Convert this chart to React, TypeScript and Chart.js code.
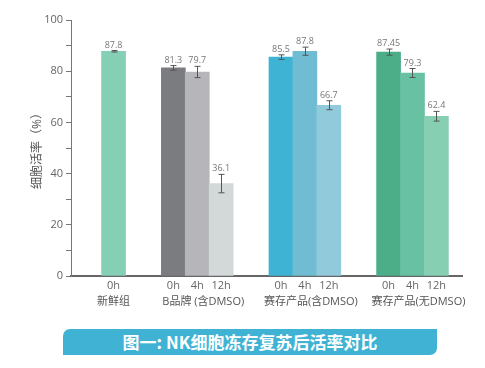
import React, { useEffect, useRef } from 'react';
import { Chart, registerables } from 'chart.js';

Chart.register(...registerables);

const groups = ['新鲜组', 'B品牌 (含DMSO)', '赛存产品(含DMSO)', '赛存产品(无DMSO)'];
const timepoints = [['0h'], ['0h', '4h', '12h'], ['0h', '4h', '12h'], ['0h', '4h', '12h']];
const viability = [[87.8], [81.3, 79.7, 36.1], [85.5, 87.8, 66.7], [87.45, 79.3, 62.4]];
const errors = [[0.3], [0.9, 2.2, 3.6], [0.9, 1.6, 1.75], [1.2, 1.75, 1.9]];
const colors = [
  ['#85CFB4'],
  ['#7B7C80', '#B6B5BA', '#D3D9D9'],
  ['#3EB3D3', '#70BDD3', '#91CADB'],
  ['#4BAE89', '#68C1A2', '#86CFB3'],
];
const yTickLabels = [0, 20, 40, 60, 80, 100];
const yTitle = '细胞活率（%）';
const bannerText = '图一: NK细胞冻存复苏后活率对比';

const GAP = 2.5;
type P = { x: number; y: number; err: number; color: string; label: string };
const points: P[] = [];
const groupTicks: { value: number; label: string }[] = [];
let cursor = 0;
groups.forEach((g, gi) => {
  const n = viability[gi].length;
  viability[gi].forEach((v, i) => {
    points.push({ x: cursor + i, y: v, err: errors[gi][i], color: colors[gi][i], label: timepoints[gi][i] });
  });
  const shift = g.endsWith(')') ? 0.25 : 0;
  groupTicks.push({ value: cursor + (n - 1) / 2 + shift, label: g });
  cursor += n - 1 + GAP;
});

const FONT = '"Open Sans", "Noto Sans CJK SC", sans-serif';
const XMIN = -1.78;
const XMAX = 14.57;

const errorPlugin = {
  id: 'errbars',
  afterDatasetsDraw(chart: any) {
    const ctx = chart.ctx;
    const meta = chart.getDatasetMeta(0);
    const ys = chart.scales.y;
    ctx.save();
    meta.data.forEach((bar: any, i: number) => {
      const p = points[i];
      const top = ys.getPixelForValue(p.y + p.err);
      const bot = ys.getPixelForValue(p.y - p.err);
      const x = Math.round(bar.x) + 0.5;
      ctx.strokeStyle = '#555';
      ctx.lineWidth = 1;
      ctx.beginPath();
      ctx.moveTo(x, top);
      ctx.lineTo(x, bot);
      ctx.moveTo(x - 3, top);
      ctx.lineTo(x + 3, top);
      ctx.moveTo(x - 3, bot);
      ctx.lineTo(x + 3, bot);
      ctx.stroke();
      ctx.fillStyle = '#777';
      ctx.font = `9px ${FONT}`;
      ctx.textAlign = 'center';
      ctx.textBaseline = 'bottom';
      ctx.fillText(String(p.y), bar.x, top - 1);
    });
    ctx.restore();
  },
};

export default function App() {
  const ref = useRef<HTMLCanvasElement>(null);
  useEffect(() => {
    const chart = new Chart(ref.current as HTMLCanvasElement, {
      type: 'bar',
      data: {
        datasets: [
          {
            data: points.map((p) => ({ x: p.x, y: p.y })),
            backgroundColor: points.map((p) => p.color),
            barThickness: 24,
            borderWidth: 0,
          },
        ],
      },
      options: {
        animation: false,
        responsive: false,
        maintainAspectRatio: false,
        layout: { padding: { top: 12, left: 0, right: 15, bottom: 4 } },
        plugins: { legend: { display: false }, tooltip: { enabled: false } },
        scales: {
          x: {
            type: 'linear',
            position: 'bottom',
            offset: false,
            min: XMIN,
            max: XMAX,
            grid: { display: false, drawTicks: false, offset: false },
            border: { display: true, color: '#666', width: 2 },
            afterBuildTicks: (s: any) => {
              s.ticks = points.map((p) => ({ value: p.x }));
            },
            afterFit: (s: any) => {
              s.height = 18;
              s.paddingLeft = 0;
              s.paddingRight = 0;
            },
            ticks: {
              autoSkip: false,
              maxRotation: 0,
              padding: 3,
              color: '#666',
              font: { family: FONT, size: 11 },
              callback: (_v: any, i: number) => points[i]?.label ?? '',
            },
          },
          x2: {
            type: 'linear',
            position: 'bottom',
            offset: false,
            min: XMIN,
            max: XMAX,
            grid: { display: false, drawTicks: false, offset: false },
            border: { display: false },
            afterBuildTicks: (s: any) => {
              s.ticks = groupTicks.map((t) => ({ value: t.value }));
            },
            afterFit: (s: any) => {
              s.height = 20;
              s.paddingLeft = 0;
              s.paddingRight = 0;
            },
            ticks: {
              autoSkip: false,
              maxRotation: 0,
              padding: 1,
              color: '#555',
              font: { family: FONT, size: 11 },
              callback: (_v: any, i: number) => groupTicks[i]?.label ?? '',
            },
          },
          y: {
            min: 0,
            max: 100,
            afterFit: (s: any) => {
              s.width = 63;
            },
            grid: { drawOnChartArea: false, drawTicks: true, tickLength: 5, color: '#777' },
            border: { display: true, color: '#777', width: 1 },
            title: {
              display: true,
              text: yTitle,
              color: '#555',
              font: { family: FONT, size: 12 },
              padding: { top: 22, bottom: 0 },
            },
            ticks: {
              stepSize: 10,
              autoSkip: false,
              padding: 3,
              color: '#666',
              font: { family: FONT, size: 11 },
              callback: (v: any) => (yTickLabels.includes(Number(v)) ? String(v) : ''),
            },
          },
        },
      } as any,
      plugins: [errorPlugin],
    });
    return () => chart.destroy();
  }, []);

  return (
    <div style={{ position: 'relative', width: 469, height: 352 }}>
      <canvas ref={ref} width={469} height={310} style={{ position: 'absolute', left: 0, top: 0, width: 469, height: 310 }} />
      <div
        style={{
          position: 'absolute',
          left: 55,
          top: 321,
          width: 374,
          height: 26,
          background: '#40B3D4',
          borderTopLeftRadius: 7,
          borderBottomRightRadius: 7,
          color: '#fff',
          fontFamily: '"Noto Sans CJK SC", sans-serif',
          fontWeight: 700,
          fontSize: 17,
          lineHeight: '26px',
          textAlign: 'center',
          whiteSpace: 'nowrap',
        }}
      >
        {bannerText}
      </div>
    </div>
  );
}
